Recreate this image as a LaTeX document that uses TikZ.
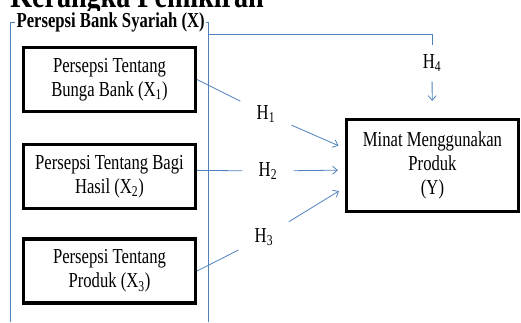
\documentclass[tikz,border=0pt]{standalone}
\usepackage{fontspec}
\setmainfont{Liberation Serif}[FakeStretch=0.78]
\usepackage{xcolor}
\usetikzlibrary{arrows.meta}
\definecolor{lineblue}{RGB}{79,129,189}

\begin{document}
\begin{tikzpicture}[x=0.75pt,y=-0.75pt,
    varbox/.style={draw=black,line width=2.4pt,minimum width=129pt,minimum height=48pt,inner sep=0pt,align=center,font=\fontsize{16}{18}\selectfont},
    hnode/.style={minimum width=38pt,minimum height=22.5pt,inner sep=0pt,font=\fontsize{16}{18}\selectfont},
    hline/.style={draw=lineblue,line width=0.6pt},
    harrow/.style={hline,-{Straight Barb[length=3.5pt,width=6pt]},shorten >=5.25pt}]

\useasboundingbox (0,0) rectangle (521,322);

\node[anchor=base west,inner sep=0pt,font=\fontsize{27}{30}\selectfont\bfseries] (title) at (10,7) {Kerangka Pemikiran};

\draw[hline] (10,322) |- (208,22) -- (208,322);
\node[anchor=base west,fill=white,inner sep=1pt,font=\fontsize{16}{18}\selectfont\bfseries] (grp) at (15,27) {Persepsi Bank Syariah (X)};
\coordinate (grpout) at (208,34);

\node[varbox] (x1) at (109.5,79.5) {Persepsi Tentang\\Bunga Bank (X\textsubscript{1})};
\node[varbox] (x2) at (109.5,176.5) {Persepsi Tentang Bagi\\Hasil (X\textsubscript{2})};
\node[varbox] (x3) at (109.5,271) {Persepsi Tentang\\Produk (X\textsubscript{3})};
\node[varbox,minimum height=69pt] (y) at (432.5,165.5) {Minat Menggunakan\\Produk\\(Y)};

\node[hnode] (h1) at (266,114) {H\textsubscript{1}};
\node[hnode] (h2) at (268,171) {H\textsubscript{2}};
\node[hnode] (h3) at (264,237) {H\textsubscript{3}};
\node[hnode,minimum height=27pt] (h4) at (432,63) {H\textsubscript{4}};

\draw[hline] (x1.east) -- (h1);
\draw[harrow] (h1) -- (y.169);
\draw[hline] (x2.4) -- (h2);
\draw[harrow] (h2) -- (y.183);
\draw[hline] (x3.east) -- (h3);
\draw[harrow] (h3) -- (y.194);
\draw[hline] (grpout) -| (h4);
\draw[harrow,shorten >=12.75pt] (h4) -- (y);

\end{tikzpicture}
\end{document}
